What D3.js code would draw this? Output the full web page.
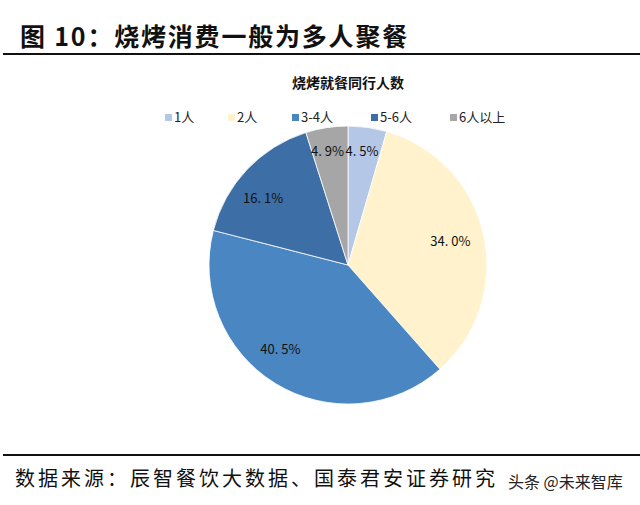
<!DOCTYPE html>
<html>
<head>
<meta charset="utf-8">
<script src="https://cdn.jsdelivr.net/npm/d3@7"></script>
<style>
body{margin:0;background:#fff;}
svg{display:block;}
</style>
</head>
<body>
<script>
var groups = ["1人","2人","3-4人","5-6人","6人以上"];
var shares = [4.5, 34.0, 40.5, 16.1, 4.9];
var colors = ["#b4c7e7","#fff2cc","#4a86c1","#3d6ea6","#a6a6a6"];
var labelText = ["4. 5%","34. 0%","40. 5%","16. 1%","4. 9%"];

var W = 640, H = 505;
var cx = 348, cy = 265, r = 139;
var font = "'Noto Sans CJK SC', sans-serif";

var svg = d3.select("body").append("svg").attr("width",W).attr("height",H);
svg.append("rect").attr("width",W).attr("height",H).attr("fill","#fff");

// header
svg.append("text").attr("x",20).attr("y",46)
  .attr("font-family",font).attr("font-size",25).attr("font-weight","bold")
  .attr("letter-spacing",1.8)
  .attr("fill","#111").text("图 10：烧烤消费一般为多人聚餐");
svg.append("line").attr("x1",3).attr("x2",640).attr("y1",54).attr("y2",54)
  .attr("stroke","#111").attr("stroke-width",2);

svg.append("text").attr("x",cx).attr("y",88).attr("text-anchor","middle")
  .attr("font-family",font).attr("font-size",14).attr("font-weight","bold")
  .attr("fill","#111").text("烧烤就餐同行人数");

// legend
var legX = [165, 228, 292, 371, 450];
var leg = svg.selectAll("g.leg").data(groups).enter().append("g")
  .attr("class","leg")
  .attr("transform",function(d,i){return "translate("+legX[i]+",118)";});
leg.append("rect").attr("x",0).attr("y",-4).attr("width",7).attr("height",7)
  .attr("fill",function(d,i){return colors[i];});
leg.append("text").attr("x",9).attr("y",0).attr("dominant-baseline","middle")
  .attr("font-family",font).attr("font-size",13).attr("fill","#222")
  .text(function(d){return d;});

// pie
var pie = d3.pie().sort(null).value(function(d){return d;});
var arcs = pie(shares);
var arc = d3.arc().innerRadius(0).outerRadius(r);
var g = svg.append("g").attr("transform","translate("+cx+","+cy+")");
g.selectAll("path").data(arcs).enter().append("path")
  .attr("d",arc)
  .attr("fill",function(d,i){return colors[i];})
  .attr("stroke","#fff").attr("stroke-width",0.8);

// label nudges
var labelR = [0.82, 0.755, 0.78, 0.78, 0.82];
var labelDx = [-2, 0, -11, -6, -3];
var labelDy = [0, 0, -7, 9, 0];
g.selectAll("text.lab").data(arcs).enter().append("text")
  .attr("class","lab")
  .attr("transform",function(d,i){
    var a = (d.startAngle+d.endAngle)/2;
    var rr = r*labelR[i];
    return "translate("+(Math.sin(a)*rr+labelDx[i])+","+(-Math.cos(a)*rr+labelDy[i])+")";
  })
  .attr("text-anchor","middle").attr("dominant-baseline","middle")
  .attr("font-family",font).attr("font-size",13).attr("fill","#111")
  .text(function(d,i){return labelText[i];});

// footer
svg.append("line").attr("x1",3).attr("x2",640).attr("y1",455).attr("y2",455)
  .attr("stroke","#111").attr("stroke-width",2);
svg.append("text").attr("x",15).attr("y",486)
  .attr("font-family",font).attr("font-size",20).attr("letter-spacing",3)
  .attr("fill","#111").text("数据来源：辰智餐饮大数据、国泰君安证券研究");
svg.append("text").attr("x",508).attr("y",488)
  .attr("font-family",font).attr("font-size",16)
  .attr("fill","#222").text("头条 @未来智库");
</script>
</body>
</html>
